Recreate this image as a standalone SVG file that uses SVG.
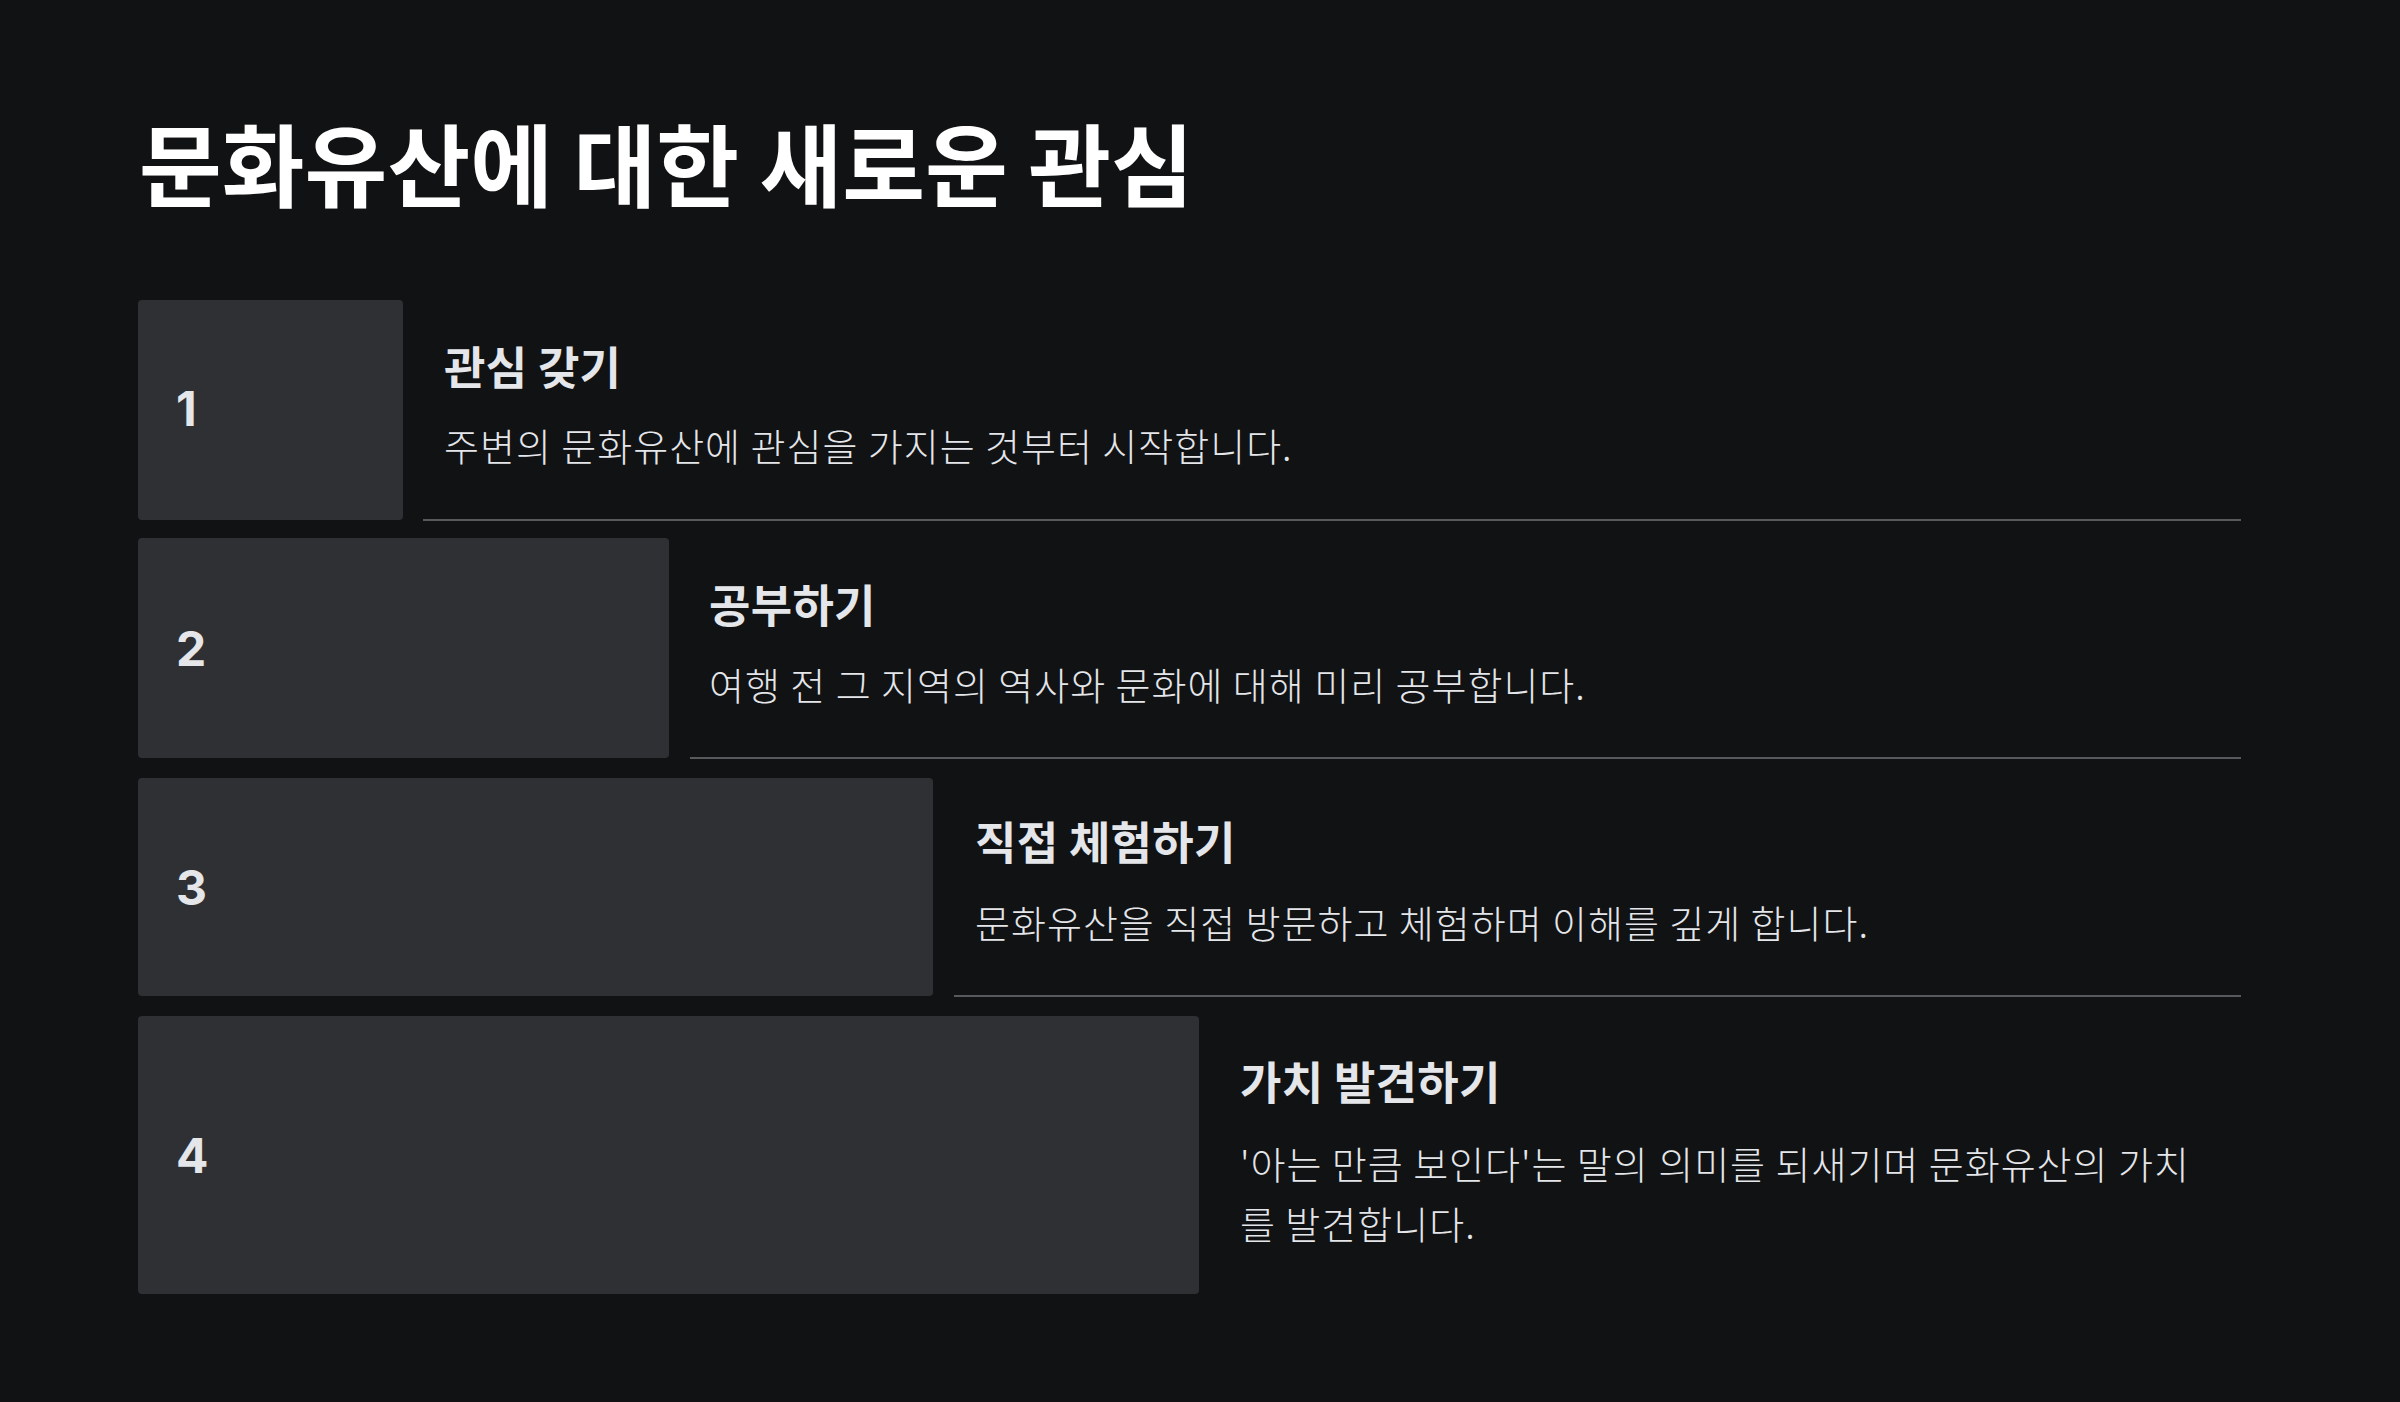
<svg xmlns="http://www.w3.org/2000/svg" width="2400" height="1402" viewBox="0 0 2400 1402">
<style>
.bg{fill:#111214}
.box{fill:#2f3033}
.num{font-family:Inter,"Noto Sans",sans-serif;font-weight:700;font-size:48px;fill:#e4e6ea}
.title{font-family:"Noto Sans CJK KR",sans-serif;font-weight:700;font-size:90px;fill:#ffffff}
.h{font-family:"Noto Sans CJK KR",sans-serif;font-weight:700;font-size:45px;fill:#e4e6ea;letter-spacing:0.3px}
.d{font-family:"Noto Sans CJK KR",sans-serif;font-weight:300;font-size:38px;fill:#e4e6ea;letter-spacing:1px}
.sep{stroke:#58595c;stroke-width:2}
</style>
<rect class="bg" x="0" y="0" width="2400" height="1402"/>
<text class="title" x="139" y="200">문화유산에 대한 새로운 관심</text>
<g id="connectors">
<line class="sep" x1="423" y1="520" x2="2241" y2="520"/>
<line class="sep" x1="690" y1="758" x2="2241" y2="758"/>
<line class="sep" x1="954" y1="996" x2="2241" y2="996"/>
</g>
<g id="step1">
<rect class="box" x="138" y="300" width="265" height="220" rx="4"/>
<text class="num" x="176" y="426">1</text>
<text class="h" x="444" y="385">관심 갖기</text>
<text class="d" x="444" y="461">주변의 문화유산에 관심을 가지는 것부터 시작합니다.</text>
</g>
<g id="step2">
<rect class="box" x="138" y="538" width="531" height="220" rx="4"/>
<text class="num" x="176" y="666">2</text>
<text class="h" x="709" y="623">공부하기</text>
<text class="d" x="709" y="700">여행 전 그 지역의 역사와 문화에 대해 미리 공부합니다.</text>
</g>
<g id="step3">
<rect class="box" x="138" y="778" width="795" height="218" rx="4"/>
<text class="num" x="176" y="905">3</text>
<text class="h" x="975" y="860">직접 체험하기</text>
<text class="d" x="975" y="938">문화유산을 직접 방문하고 체험하며 이해를 깊게 합니다.</text>
</g>
<g id="step4">
<rect class="box" x="138" y="1016" width="1061" height="278" rx="4"/>
<text class="num" x="176" y="1173">4</text>
<text class="h" x="1240" y="1100">가치 발견하기</text>
<text class="d" x="1240" y="1179">'아는 만큼 보인다'는 말의 의미를 되새기며 문화유산의 가치</text>
<text class="d" x="1240" y="1239">를 발견합니다.</text>
</g>
</svg>
